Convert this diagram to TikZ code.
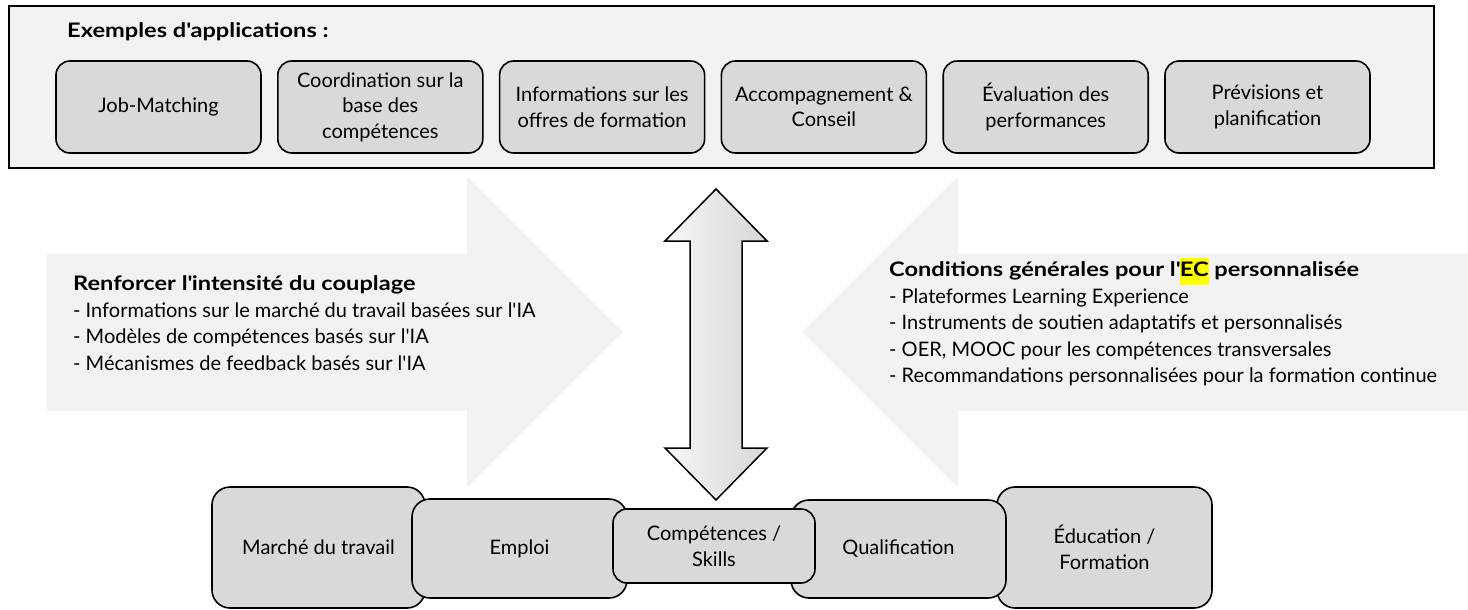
\documentclass[tikz,border=0pt]{standalone}
\usepackage{fontspec}
\setmainfont{Lato}
\definecolor{panelgray}{HTML}{F2F2F2}
\definecolor{boxgray}{HTML}{D9D9D9}
\definecolor{hiyellow}{HTML}{FFFF00}
% straight apostrophe and wide bold headings
\newcommand\apos{\textquotesingle}
\newcommand\hd[1]{{\bfseries\addfontfeatures{FakeStretch=1.18}#1}}
\tikzset{
  panel/.style={draw, line width=1.6pt, fill=panelgray, inner sep=0pt},
  appbox/.style={draw, line width=1.6pt, rounded corners=14pt, fill=boxgray,
    minimum width=205pt, minimum height=92pt, align=center, inner sep=0pt},
  basebox/.style={draw, line width=1.6pt, rounded corners=18pt, fill=boxgray,
    align=center, inner sep=0pt},
  bigarrow/.style={fill=panelgray},
  dblarrow/.style={draw, line width=1.5pt, line join=miter, left color=gray!6, right color=gray!32},
  txt/.style={font=\fontsize{20}{25.5}\selectfont},
  list/.style={font=\fontsize{20}{26.5}\selectfont, align=left, inner sep=0pt},
}
\begin{document}
\begin{tikzpicture}[x=1pt, y=-1pt]
\useasboundingbox (0,0) rectangle (1468,610);

% large background arrows
\fill[bigarrow] (47,254) -- (467,254) -- (467,176) -- (623,332) -- (467,488)
  -- (467,411) -- (47,411) -- cycle;
\fill[bigarrow] (1468,254) -- (958,254) -- (958,176) -- (802,332) -- (958,488)
  -- (958,411) -- (1468,411) -- cycle;

% applications panel
\node[panel, minimum width=1425pt, minimum height=162pt] (panel) at (721.5,87) {};
\node[txt, anchor=base west, inner sep=0pt] (title) at (67,38) {\hd{Exemples d\apos applications :}};
\node[appbox, txt] (a1) at (158.5,107) {Job-Matching};
\node[appbox, txt] (a2) at (380.3,107) {Coordination sur la\\base des\\compétences};
\node[appbox, txt] (a3) at (602.1,107) {Informations sur les\\offres de formation};
\node[appbox, txt] (a4) at (823.9,107) {Accompagnement \&\\Conseil};
\node[appbox, txt] (a5) at (1045.7,107) {Évaluation des\\performances};
\node[appbox, txt] (a6) at (1267.5,107) {Prévisions et\\planification};

% text on the large arrows
\node[list, anchor=west] (left) at (73,323) {%
  \hd{Renforcer l\apos intensité du couplage}\\
  - Informations sur le marché du travail basées sur l\apos IA\\
  - Modèles de compétences basés sur l\apos IA\\
  - Mécanismes de feedback basés sur l\apos IA};
\node[list, anchor=west] (right) at (889,322) {%
  \hd{Conditions générales pour l\apos{\setlength\fboxsep{0pt}\colorbox{hiyellow}{\strut EC}} personnalisée}\\
  - Plateformes Learning Experience\\
  - Instruments de soutien adaptatifs et personnalisés\\
  - OER, MOOC pour les compétences transversales\\
  - Recommandations personnalisées pour la formation continue};

% bottom chain
\node[basebox, txt, minimum width=213pt, minimum height=121pt] (m) at (318.5,547.5) {Marché du travail};
\node[basebox, txt, minimum width=215pt, minimum height=99pt] (e) at (519.5,548.5) {Emploi};
\node[basebox, txt, minimum width=215pt, minimum height=121pt] (f) at (1104.5,547.5) {Éducation /\\Formation};
\node[basebox, txt, minimum width=215pt, minimum height=98pt] (q) at (898.5,549) {Qualification};
\node[basebox, txt, rounded corners=14pt, minimum width=202pt, minimum height=74pt] (c) at (714,546) {Compétences /\\Skills};

% two-headed block arrow between panel and chain
\path[dblarrow] (716,189) -- (767,241) -- (742,241) -- (742,448) -- (767,448)
  -- (716,500) -- (665,448) -- (690,448) -- (690,241) -- (665,241) -- cycle;
\end{tikzpicture}
\end{document}
